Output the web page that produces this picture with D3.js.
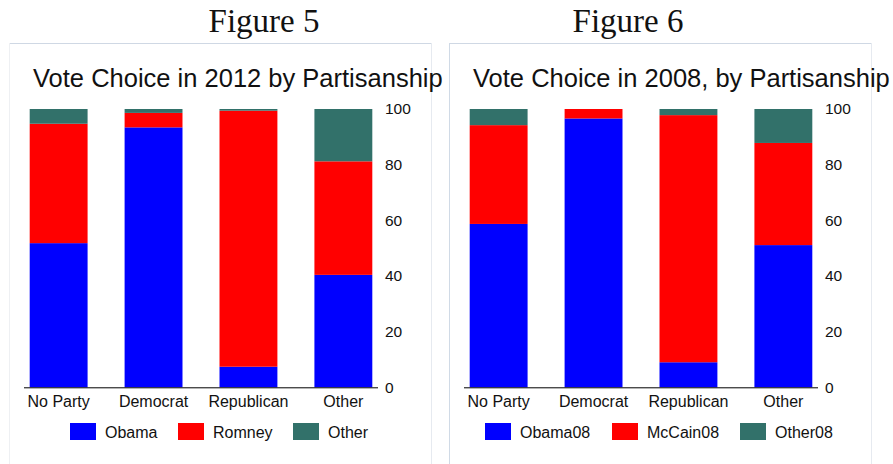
<!DOCTYPE html>
<html>
<head>
<meta charset="utf-8">
<script src="https://cdn.jsdelivr.net/npm/d3@7"></script>
<style>
  body { margin: 0; background: #fff; }
  svg { display: block; }
</style>
</head>
<body>
<div id="chart"></div>
<script>
var categories = ["No Party", "Democrat", "Republican", "Other"];
var yTicks = [0, 20, 40, 60, 80, 100];

// Figure 5: 2012 vote shares (percent) by partisanship
var obama12 = [51.8, 93.4, 7.4, 40.4];
var romney12 = [42.9, 5.2, 92.0, 40.8];
var other12 = [5.3, 1.4, 0.6, 18.8];

// Figure 6: 2008 vote shares
var obama08 = [58.7, 96.6, 9.0, 51.1];
var mccain08 = [35.5, 3.4, 88.8, 36.7];
var other08 = [5.8, 0.0, 2.2, 12.2];

var colors = ["#0000ff", "#ff0000", "#32716a"];

var width = 893, height = 464;

var svg = d3.select("#chart").append("svg")
    .attr("width", width)
    .attr("height", height);

function panel(opts) {
  var g = svg.append("g").attr("transform", "translate(" + opts.x + ",0)");

  // figure caption
  g.append("text")
      .attr("x", opts.captionX)
      .attr("y", 32)
      .attr("text-anchor", "middle")
      .style("font-family", "'Liberation Serif', 'Times New Roman', serif")
      .style("font-size", "33px")
      .style("fill", "#111")
      .text(opts.caption);

  // frame
  g.append("line").attr("x1", 0).attr("x2", 423).attr("y1", 43.5).attr("y2", 43.5)
      .style("stroke", "#cfd8e4");
  g.append("line").attr("x1", 0.5).attr("x2", 0.5).attr("y1", 43).attr("y2", height)
      .style("stroke", opts.leftEdge);
  g.append("line").attr("x1", 422.5).attr("x2", 422.5).attr("y1", 43).attr("y2", height)
      .style("stroke", "#e6eaf0");

  g.append("text")
      .attr("x", opts.titleX)
      .attr("y", 87)
      .style("font-family", "'Liberation Sans', Arial, sans-serif")
      .style("font-size", "25.5px")
      .style("fill", "#111")
      .text(opts.title);

  var x = d3.scaleBand()
      .domain(categories)
      .range([15, 369])
      .paddingInner(0.39)
      .paddingOuter(0.06);

  var y = d3.scaleLinear()
      .domain([0, 100])
      .range([387.3, 109]);

  var rows = categories.map(function (c, i) {
    var r = {cat: c};
    opts.keys.forEach(function (k, j) { r[k] = opts.series[j][i]; });
    return r;
  });

  var stacked = d3.stack().keys(opts.keys)(rows);

  g.selectAll("g.layer")
      .data(stacked)
      .enter().append("g")
      .attr("class", "layer")
      .style("fill", function (d, i) { return colors[i]; })
      .selectAll("rect")
      .data(function (d) { return d; })
      .enter().append("rect")
      .attr("x", function (d) { return x(d.data.cat); })
      .attr("width", x.bandwidth())
      .attr("y", function (d) { return y(d[1]); })
      .attr("height", function (d) { return y(d[0]) - y(d[1]); });

  // category axis
  var xAxis = g.append("g")
      .attr("transform", "translate(0," + y(0) + ")")
      .call(d3.axisBottom(x).tickSize(0).tickPadding(8));
  xAxis.select(".domain").attr("d", "M15,0.5H369").style("stroke", "#000");
  xAxis.selectAll("text")
      .style("font-family", "'Liberation Sans', Arial, sans-serif")
      .style("font-size", "16px")
      .style("fill", "#111");

  // value axis on the right, labels only
  var yAxis = g.append("g")
      .attr("transform", "translate(370,0)")
      .call(d3.axisRight(y).tickValues(yTicks).tickSize(0).tickPadding(6));
  yAxis.select(".domain").remove();
  yAxis.selectAll("text")
      .style("font-family", "'Liberation Sans', Arial, sans-serif")
      .style("font-size", "15.5px")
      .style("fill", "#111");

  // legend
  var legend = g.selectAll("g.legend")
      .data(opts.keys)
      .enter().append("g")
      .attr("class", "legend")
      .attr("transform", function (d, i) { return "translate(" + opts.legendX[i] + ",423)"; });
  legend.append("rect")
      .attr("width", 26)
      .attr("height", 17)
      .style("fill", function (d, i) { return colors[i]; });
  legend.append("text")
      .attr("x", 35)
      .attr("y", 15)
      .style("font-family", "'Liberation Sans', Arial, sans-serif")
      .style("font-size", "16px")
      .style("fill", "#111")
      .text(function (d) { return d; });
}

panel({
  x: 9,
  caption: "Figure 5",
  captionX: 255,
  title: "Vote Choice in 2012 by Partisanship",
  titleX: 24,
  keys: ["Obama", "Romney", "Other"],
  series: [obama12, romney12, other12],
  legendX: [61, 169, 284],
  leftEdge: "#eef0f3"
});

panel({
  x: 449,
  caption: "Figure 6",
  captionX: 179,
  title: "Vote Choice in 2008, by Partisanship",
  titleX: 24,
  keys: ["Obama08", "McCain08", "Other08"],
  series: [obama08, mccain08, other08],
  legendX: [36, 163, 291],
  leftEdge: "#d0dae6"
});
</script>
</body>
</html>
